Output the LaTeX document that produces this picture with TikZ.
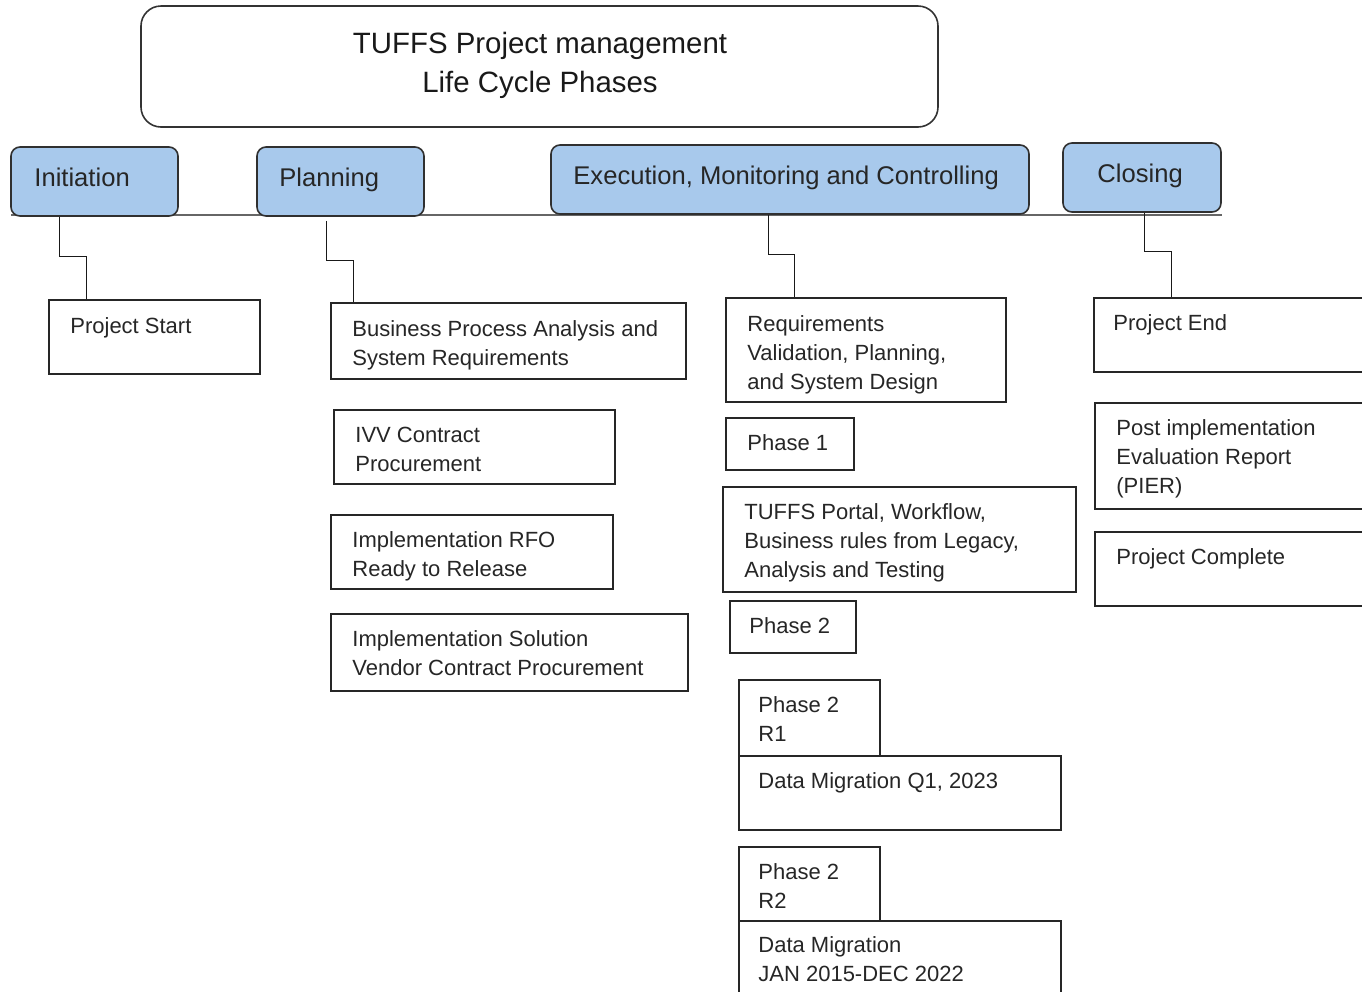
\documentclass[tikz,border=0pt]{standalone}
\usepackage{fontspec}
\setmainfont{Liberation Sans}
\usetikzlibrary{fit,calc}
\definecolor{hdrfill}{HTML}{A8C9EC}
\definecolor{hdrline}{HTML}{303030}
\definecolor{busline}{HTML}{666666}
\begin{document}
\begin{tikzpicture}[x=0.5pt,y=-0.5pt,
  box/.style={draw=black!85, line width=0.7pt, inner sep=0pt},
  hdr/.style={draw=hdrline, fill=hdrfill, rounded corners=4.5pt, line width=0.8pt, inner sep=0pt},
  titlebox/.style={draw=black!80, rounded corners=10pt, line width=0.8pt, inner sep=0pt},
  txt/.style={anchor=base west, inner sep=0pt, text=black!85, font=\fontsize{11}{14.5}\selectfont},
  htxt/.style={anchor=base west, inner sep=0pt, text=black!85, font=\fontsize{12.8}{16}\selectfont},
  ttxt/.style={anchor=base, inner sep=0pt, text=black!90, font=\fontsize{14.7}{19.5}\selectfont},
  conn/.style={draw=black!90, line width=0.7pt},
  bus/.style={draw=busline, line width=1.2pt}]
\useasboundingbox (0,0) rectangle (1362,992);
\clip (0,0) rectangle (1362,992);

% title
\node[titlebox, fit={(141,6) (938,127)}] (title) {};
\node[ttxt] (title-t) at (540,53) {\vtop{\hbox to 220pt{\hfil TUFFS Project management\hfil}\hbox to 220pt{\hfil Life Cycle Phases\hfil}}};

% bus line
\coordinate (busL) at (11,215);
\coordinate (busR) at (1222,215);
\draw[bus] (busL) -- (busR);

% phase headers
\node[hdr, fit={(11,147) (178,216)}] (ini) {};
\node[htxt] (ini-t) at (34,186) {Initiation};
\node[hdr, fit={(257,147) (424,216)}] (pla) {};
\node[htxt] (pla-t) at (279,186) {Planning};
\node[hdr, fit={(551,145) (1029,214)}] (exe) {};
\node[htxt] (exe-t) at (573,184) {Execution, Monitoring and Controlling};
\node[hdr, fit={(1063,143) (1221,212)}] (clo) {};
\node[htxt] (clo-t) at (1097,182) {Closing};

% Initiation column
\node[box, fit={(49,300) (260,374)}] (ps) {};
\node[txt] (ps-t) at (70,333) {Project Start};

% Planning column
\node[box, fit={(331,303) (686,379)}] (bp) {};
\node[txt] (bp-t) at (352,336) {\vtop{\hbox{Business Process Analysis and}\hbox{System Requirements}}};
\node[box, fit={(334,410) (615,484)}] (ivv) {};
\node[txt] (ivv-t) at (355,442) {\vtop{\hbox{IVV Contract}\hbox{Procurement}}};
\node[box, fit={(331,515) (613,589)}] (rfo) {};
\node[txt] (rfo-t) at (352,547) {\vtop{\hbox{Implementation RFO}\hbox{Ready to Release}}};
\node[box, fit={(331,614) (688,691)}] (sol) {};
\node[txt] (sol-t) at (352,646) {\vtop{\hbox{Implementation Solution}\hbox{Vendor Contract Procurement}}};

% Execution column
\node[box, fit={(726,298) (1006,402)}] (req) {};
\node[txt] (req-t) at (747,331) {\vtop{\hbox{Requirements}\hbox{Validation, Planning,}\hbox{and System Design}}};
\node[box, fit={(726,418) (854,470)}] (ph1) {};
\node[txt] (ph1-t) at (747,450) {Phase 1};
\node[box, fit={(723,487) (1076,592)}] (portal) {};
\node[txt] (portal-t) at (744,519) {\vtop{\hbox{TUFFS Portal, Workflow,}\hbox{Business rules from Legacy,}\hbox{Analysis and Testing}}};
\node[box, fit={(730,601) (856,653)}] (ph2) {};
\node[txt] (ph2-t) at (749,633) {Phase 2};
\node[box, fit={(739,680) (880,756)}] (r1) {};
\node[txt] (r1-t) at (758,712) {\vtop{\hbox{Phase 2}\hbox{R1}}};
\node[box, fit={(739,756) (1061,830)}] (dm1) {};
\node[txt] (dm1-t) at (758,788) {Data Migration Q1, 2023};
\node[box, fit={(739,847) (880,921)}] (r2) {};
\node[txt] (r2-t) at (758,879) {\vtop{\hbox{Phase 2}\hbox{R2}}};
\node[box, fit={(739,921) (1061,1040)}] (dm2) {};
\node[txt] (dm2-t) at (758,952) {\vtop{\hbox{Data Migration}\hbox{JAN 2015-DEC 2022}}};

% Closing column
\node[box, fit={(1094,298) (1420,372)}] (pe) {};
\node[txt] (pe-t) at (1113,330) {Project End};
\node[box, fit={(1095,403) (1420,509)}] (pier) {};
\node[txt] (pier-t) at (1116,435) {\vtop{\hbox{Post implementation}\hbox{Evaluation Report}\hbox{(PIER)}}};
\node[box, fit={(1095,532) (1420,606)}] (pc) {};
\node[txt] (pc-t) at (1116,564) {Project Complete};

% elbow connectors
\draw[conn] ($(ini.south west)+(49,0)$) |- ($(ps.north west)+(38,-43)$) -- ($(ps.north west)+(38,0)$);
\draw[conn] ($(pla.south west)+(70,4)$) |- ($(bp.north west)+(23,-42)$) -- ($(bp.north west)+(23,0)$);
\draw[conn] ($(exe.south west)+(218,0)$) |- ($(req.north west)+(69,-43)$) -- ($(req.north west)+(69,0)$);
\draw[conn] ($(clo.south west)+(82,0)$) |- ($(pe.north west)+(78,-46)$) -- ($(pe.north west)+(78,0)$);
\end{tikzpicture}
\end{document}
